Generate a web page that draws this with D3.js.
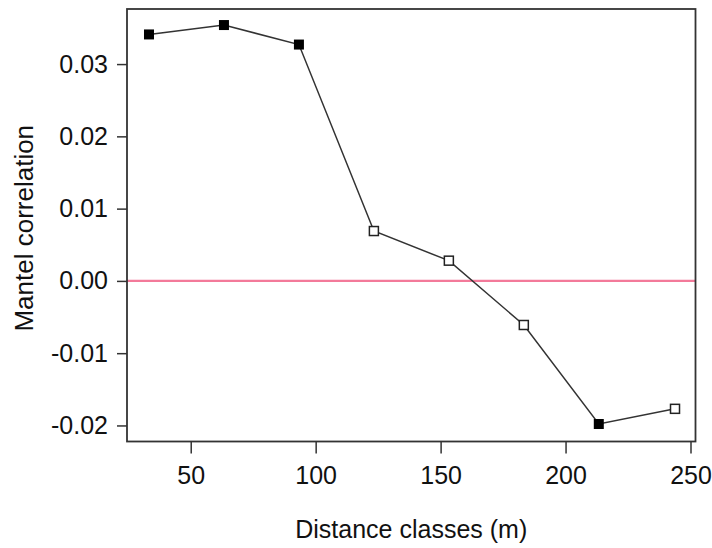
<!DOCTYPE html>
<html>
<head>
<meta charset="utf-8">
<script src="https://cdn.jsdelivr.net/npm/d3@7"></script>
<style>
  body { margin: 0; background: #fff; }
  text { font-family: "Liberation Sans", Arial, sans-serif; fill: #111; }
</style>
</head>
<body>
<svg id="chart" width="712" height="548"></svg>
<script>
// distance class midpoints (m) and Mantel correlation values
var distances = [33.3, 63.3, 93.3, 123.3, 153.3, 183.3, 213.3, 243.8];
var mantel = [0.0341, 0.0354, 0.0327, 0.0069, 0.0028, -0.0061, -0.0198, -0.0177];
var significant = [true, true, true, false, false, false, true, false];
var xTicks = [50, 100, 150, 200, 250];
var yTicks = [-0.02, -0.01, 0.00, 0.01, 0.02, 0.03];

var svg = d3.select('#chart');
var plotL = 127, plotR = 695.5, plotT = 9, plotB = 441.5;

var x = d3.scaleLinear().domain([24.5, 252]).range([plotL, plotR]);
var y = d3.scaleLinear().domain([-0.02222, 0.03762]).range([plotB, plotT]);

var points = distances.map(function(d, i){
    return {x: d, y: mantel[i], filled: significant[i]};
});

// zero reference line
svg.append('line')
    .attr('x1', plotL).attr('x2', plotR)
    .attr('y1', y(0)).attr('y2', y(0))
    .attr('stroke', '#f37a9a')
    .attr('stroke-width', 2.4);

// connecting line
var line = d3.line().x(function(d){ return x(d.x); }).y(function(d){ return y(d.y); });
svg.append('path')
    .datum(points)
    .attr('d', line)
    .attr('fill', 'none')
    .attr('stroke', '#333')
    .attr('stroke-width', 1.5);

// square markers
svg.selectAll('rect.pt').data(points).enter().append('rect')
    .attr('class', 'pt')
    .attr('x', function(d){ return x(d.x) - (d.filled ? 5 : 4.5); })
    .attr('y', function(d){ return y(d.y) - (d.filled ? 5 : 4.5); })
    .attr('width', function(d){ return d.filled ? 10 : 9; })
    .attr('height', function(d){ return d.filled ? 10 : 9; })
    .attr('fill', function(d){ return d.filled ? '#000' : '#fff'; })
    .attr('stroke', function(d){ return d.filled ? 'none' : '#222'; })
    .attr('stroke-width', 1.5);

// box
svg.append('rect')
    .attr('x', plotL).attr('y', plotT)
    .attr('width', plotR - plotL).attr('height', plotB - plotT)
    .attr('fill', 'none')
    .attr('stroke', '#333')
    .attr('stroke-width', 1.8);

// axes
var xAxis = svg.append('g')
    .attr('transform', 'translate(0,' + plotB + ')')
    .call(d3.axisBottom(x).tickValues(xTicks).tickSize(12).tickPadding(13).tickFormat(d3.format('d')));
var yAxis = svg.append('g')
    .attr('transform', 'translate(' + plotL + ',0)')
    .call(d3.axisLeft(y).tickValues(yTicks).tickSize(10).tickPadding(9));

[xAxis, yAxis].forEach(function(g){
    g.select('.domain').remove();
    g.selectAll('.tick line').attr('stroke', '#333').attr('stroke-width', 1.5);
    g.selectAll('.tick text').style('font-size', '25px').attr('fill', '#111');
});
yAxis.selectAll('.tick text').text(function(d){ return d3.format('.2f')(d).replace('\u2212', '-'); });

// axis titles
svg.append('text')
    .attr('x', (plotL + plotR) / 2).attr('y', 538)
    .attr('text-anchor', 'middle')
    .style('font-size', '25px')
    .text('Distance classes (m)');
svg.append('text')
    .attr('transform', 'translate(33,' + ((plotT + plotB) / 2 + 3) + ') rotate(-90)')
    .attr('text-anchor', 'middle')
    .style('font-size', '26px')
    .text('Mantel correlation');
</script>
</body>
</html>
